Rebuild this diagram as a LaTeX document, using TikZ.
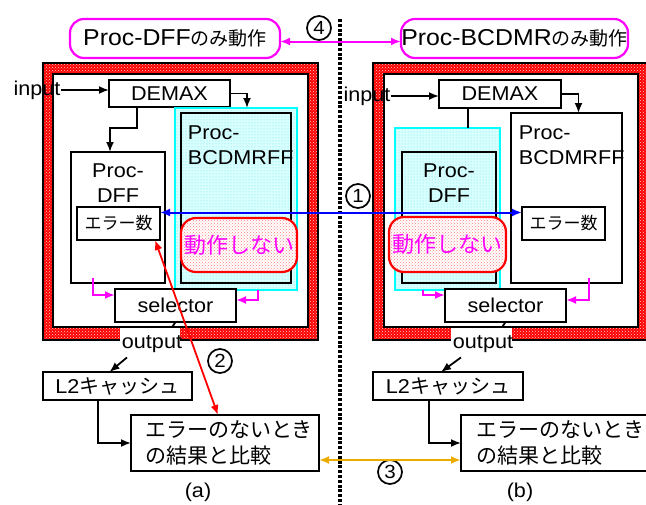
\documentclass[tikz,border=0pt]{standalone}
\usepackage{fontspec}
\setmainfont{Liberation Sans}[FakeStretch=1.08]
\newfontfamily\jp{Noto Sans CJK JP}
\usetikzlibrary{arrows.meta,patterns}
\definecolor{amber}{RGB}{235,172,0}
\definecolor{aqua}{RGB}{0,255,255}
\definecolor{pink}{RGB}{255,0,255}
\definecolor{red}{RGB}{255,0,0}
\definecolor{blue}{RGB}{0,0,255}

\begin{document}
\begin{tikzpicture}
  [x=1pt,y=-1pt,line width=1.8pt,>={Latex[length=10pt,width=8pt]},
   frame/.style={draw,line width=2.2pt,anchor=north west,inner sep=0pt,outer sep=0pt},
   box/.style={frame,fill=white},
   txt/.style={font=\fontsize{20}{25}\selectfont,inner sep=0pt},
   title/.style={box,draw=pink,rounded corners=14pt,font=\fontsize{23}{24}\selectfont},
   dots/.style={frame,draw=aqua,line width=2.4pt,preaction={fill=aqua!15},pattern=dots,pattern color=aqua!80!black!60},
   idle/.style={frame,draw=red,rounded corners=15pt,preaction={fill=white},pattern=crosshatch dots,
     pattern color=red!50,text=pink,font=\jp\fontsize{22}{22}\selectfont},
   band/.style={preaction={fill=red},pattern=crosshatch dots,pattern color=white!80!red,draw,line width=2.5pt},
   pinkarr/.style={->,pink,line width=2pt},
   num/.style={circle,draw,line width=1.7pt,minimum size=24pt,inner sep=0pt,font=\fontsize{19}{19}\selectfont}]
  \useasboundingbox (0,0) rectangle (646,504);

  % titles and divider
  \node[title,minimum width=210pt,minimum height=39pt] (topL) at (70,19) {Proc-DFF{\jp\fontsize{19}{24}\selectfont のみ動作}};
  \node[title,minimum width=227pt,minimum height=39pt] (topR) at (401,19) {Proc-BCDMR{\jp\fontsize{19}{24}\selectfont のみ動作}};
  \draw[line width=3.2pt,dash pattern=on 3pt off 1.8pt] (340,19) -- (340,504);

  % frames
  \path[band] (43,63) rectangle (318,340);
  \filldraw[fill=white,line width=2.5pt] (53,74) rectangle (308,327);
  \path[band] (373,63) rectangle (660,340);
  \filldraw[fill=white,line width=2.5pt] (384,74) rectangle (638,327);

  % (a)
  \node[txt] (inL) at (37,90) {input};
  \node[box,txt,minimum width=121pt,minimum height=27pt] (demaxL) at (109,80) {DEMAX};
  \node[box,minimum width=94pt,minimum height=131pt] (procL) at (71,152) {};
  \node[txt,anchor=north,align=center] (procLt) at ([yshift=-11pt]procL.north) {Proc-\\DFF};
  \node[dots,minimum width=122pt,minimum height=182pt] (cyanL) at (175,108) {};
  \node[frame,minimum width=110pt,minimum height=170pt] (bcdL) at (181,113) {};
  \node[txt,anchor=north west,align=left] (bcdLt) at ([xshift=6pt,yshift=-12pt]bcdL.north west) {Proc-\\BCDMRFF};
  \node[idle,minimum width=116pt,minimum height=54pt] (idleL) at (181,218) {動作しない};
  \node[box,minimum width=83pt,minimum height=33pt,font=\jp\fontsize{17}{17}\selectfont] (errL) at (77,207) {エラー数};
  \node[box,txt,minimum width=121pt,minimum height=33pt] (selL) at (115,289) {selector};
  \node[box,minimum width=149pt,minimum height=28pt,font=\fontsize{20}{22}\selectfont] (l2L) at (43,372) {L2{\jp キャッシュ}};
  \node[box,text width=160pt,inner xsep=14pt,minimum height=56pt,align=left,font=\jp\fontsize{21}{26}\selectfont] (resL) at (131,415) {エラーのないとき\\の結果と比較};
  \node[txt] (capL) at (198,492) {(a)};

  \draw[->] (inL.east) -- (inL.east -| demaxL.west);
  \draw[->] (demaxL.east) -| ([xshift=11pt]cyanL.north);
  \draw[->] ([xshift=28pt]demaxL.south west) -- ++(0,21) -| ([xshift=-8pt]procL.north);
  \draw[pinkarr] ([xshift=22pt,yshift=5pt]procL.south west) |- ([yshift=-6pt]selL.north west);
  \draw[pinkarr] ([xshift=-39pt]cyanL.south east) |- ([yshift=-11pt]selL.north east);
  \draw (selL.south) -- ++(-4,6);
  \fill[white] (120,328) rectangle (180,343);
  \node[txt] (outL) at (152,344) {output};
  \draw[->] ([xshift=-25pt,yshift=-4pt]outL.south) -- ([xshift=-8pt]l2L.north);
  \draw[->] ([xshift=55pt]l2L.south west) |- (resL.west);

  % (b)
  \node[txt] (inR) at (367,96) {input};
  \node[box,txt,minimum width=122pt,minimum height=28pt] (demaxR) at (439,80) {DEMAX};
  \node[dots,minimum width=105pt,minimum height=162pt] (cyanR) at (395,128) {};
  \node[frame,minimum width=94pt,minimum height=131pt] (procR) at (402,152) {};
  \node[txt,anchor=north,align=center] (procRt) at ([yshift=-11pt]procR.north) {Proc-\\DFF};
  \node[idle,minimum width=117pt,minimum height=55pt] (idleR) at (389,217) {動作しない};
  \node[box,minimum width=111pt,minimum height=170pt] (bcdR) at (511,113) {};
  \node[txt,anchor=north west,align=left] (bcdRt) at ([xshift=7pt,yshift=-12pt]bcdR.north west) {Proc-\\BCDMRFF};
  \node[box,minimum width=83pt,minimum height=33pt,font=\jp\fontsize{17}{17}\selectfont] (errR) at (522,207) {エラー数};
  \node[box,txt,minimum width=121pt,minimum height=33pt] (selR) at (445,289) {selector};
  \node[box,minimum width=150pt,minimum height=28pt,font=\fontsize{20}{22}\selectfont] (l2R) at (373,372) {L2{\jp キャッシュ}};
  \node[box,text width=192pt,inner xsep=15pt,minimum height=56pt,align=left,font=\jp\fontsize{21}{26}\selectfont] (resR) at (461,415) {エラーのないとき\\の結果と比較};
  \node[txt] (capR) at (520,492) {(b)};

  \draw[->] (inR.east) -- (inR.east -| demaxR.west);
  \draw[->] (demaxR.east) -| ([xshift=12pt]bcdR.north);
  \draw ([xshift=29pt]demaxR.south west) -- ([xshift=29pt]demaxR.south west |- cyanR.north);
  \draw[pinkarr] ([xshift=28pt]cyanR.south west) |- ([yshift=-6pt]selR.north west);
  \draw[pinkarr] ([xshift=-33pt,yshift=5pt]bcdR.south east) |- ([yshift=-11pt]selR.north east);
  \draw (selR.south) -- ++(-4,6);
  \fill[white] (451,328) rectangle (512,343);
  \node[txt] (outR) at (483,344) {output};
  \draw[->] ([xshift=-22pt,yshift=-4pt]outR.south) -- ([xshift=-7pt]l2R.north);
  \draw[->] ([xshift=56pt]l2R.south west) |- (resR.west);

  % comparisons
  \node[num] (n4) at (319,28) {4};
  \draw[<->,pink,line width=2pt] ([yshift=-3pt]topL.east) -- ([yshift=-3pt]topR.west);
  \node[num] (n1) at (358,196) {1};
  \draw[<->,blue,line width=2pt] ([yshift=11pt]errL.east) -- ([yshift=11pt]errR.west);
  \node[num] (n2) at (220,361) {2};
  \draw[<->,red,line width=1.8pt] ([xshift=-5pt]errL.south east) -- ([xshift=87pt]resL.north west);
  \node[num] (n3) at (390,472) {3};
  \draw[<->,amber,line width=2pt] ([yshift=-17pt]resL.east) -- ([yshift=-17pt]resR.west);
\end{tikzpicture}
\end{document}
